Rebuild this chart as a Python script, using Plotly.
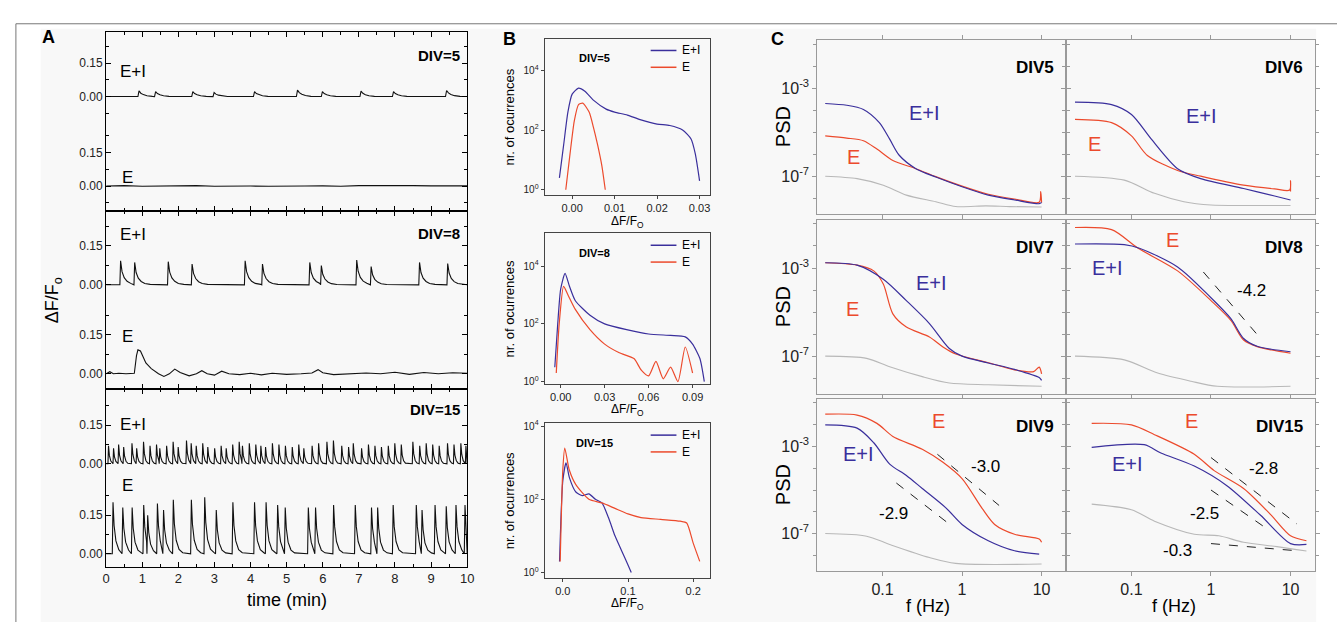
import numpy as np
import plotly.graph_objects as go

W, H = 1344, 625
FONT = "Liberation Sans, Arial, sans-serif"
BLUE = "#3a2f9c"
RED = "#ec4a2c"
GRAY = "#b8b8b8"
BLACK = "#111111"

# ---------------- Panel A data (time in min, dF/F) ----------------
A_TIME_TICKS = list(range(11))
# DIV=5
A5_EI_T = [0.88, 1.34, 2.37, 2.96, 4.08, 5.27, 5.96, 7.03, 7.93, 9.40]
A5_EI_A = [0.025, 0.022, 0.022, 0.018, 0.022, 0.029, 0.022, 0.024, 0.022, 0.027]
A5_EI_SHAPE_T = [0, 0.03, 0.08, 0.15, 0.25, 0.40]
A5_EI_SHAPE_Y = [0, 1.0, 0.6, 0.35, 0.15, 0.03]
A5_E_T = [0, 0.5, 1.0, 1.5, 2.0, 2.5, 3.0, 3.5, 4.0, 4.5, 5.0, 5.5, 6.0, 6.5, 7.0, 7.5, 8.0, 8.5, 9.0, 9.5, 10.0]
A5_E_Y = [0.0, 0.002, -0.001, 0.001, 0.0, 0.002, -0.001, 0.001, 0.0, -0.001, 0.001, 0.0, 0.001, -0.001, 0.002, 0.003, 0.004, 0.002, 0.001, 0.0, 0.001]
# DIV=8
A8_EI_T = [0.38, 0.77, 1.70, 2.36, 3.83, 4.31, 5.62, 5.94, 6.92, 7.32, 8.66, 9.44]
A8_EI_A = [0.092, 0.086, 0.089, 0.080, 0.092, 0.080, 0.086, 0.074, 0.095, 0.070, 0.086, 0.082]
A8_EI_SHAPE_T = [0, 0.02, 0.06, 0.12, 0.20, 0.30, 0.45]
A8_EI_SHAPE_Y = [0, 1.0, 0.55, 0.30, 0.15, 0.06, 0.02]
A8_E_T = [0, 0.1, 0.2, 0.35, 0.55, 0.78, 0.84, 0.88, 0.95, 1.0, 1.1, 1.25, 1.45, 1.6, 1.75, 1.9, 2.05, 2.3, 2.5,
          2.65, 2.8, 3.0, 3.2, 3.4, 3.7, 4.0, 4.3, 4.6, 5.0, 5.4, 5.7, 5.87, 6.0, 6.3, 6.8, 7.2, 7.6, 8.0, 8.4,
          8.8, 9.2, 9.6, 10.0]
A8_E_Y = [0.0, 0.008, 0.0, 0.002, 0.0, 0.002, 0.07, 0.092, 0.088, 0.072, 0.042, 0.02, 0.0, -0.01, 0.0, 0.018,
          0.005, -0.008, 0.0, 0.012, 0.0, -0.005, 0.01, 0.0, -0.003, 0.002, -0.004, 0.002, -0.002, 0.0, 0.003,
          0.016, 0.004, -0.003, 0.0, 0.003, 0.0, 0.006, -0.002, 0.005, 0.0, 0.004, 0.002]
# DIV=15
A15_EI_T = [0.05, 0.19, 0.33, 0.47, 0.70, 0.83, 1.02, 1.20, 1.38, 1.47, 1.66, 1.84, 1.98, 2.21, 2.34, 2.48,
            2.66, 2.80, 2.99, 3.17, 3.31, 3.49, 3.67, 3.76, 3.95, 4.13, 4.27, 4.40, 4.59, 4.77, 4.95, 5.14,
            5.32, 5.46, 5.69, 5.87, 6.10, 6.28, 6.51, 6.70, 6.83, 7.06, 7.25, 7.43, 7.61, 7.80, 7.98, 8.16,
            8.48, 8.67, 8.85, 9.03, 9.21, 9.44, 9.62, 9.81, 9.95]
A15_EI_A = [0.07, 0.06, 0.075, 0.065, 0.08, 0.06, 0.085, 0.07, 0.075, 0.06, 0.07, 0.085, 0.065, 0.09, 0.08, 0.07,
            0.08, 0.065, 0.06, 0.07, 0.06, 0.075, 0.085, 0.07, 0.08, 0.075, 0.07, 0.065, 0.08, 0.075, 0.07, 0.065,
            0.075, 0.06, 0.07, 0.08, 0.085, 0.09, 0.07, 0.065, 0.08, 0.06, 0.075, 0.07, 0.065, 0.07, 0.08, 0.075,
            0.085, 0.07, 0.08, 0.075, 0.07, 0.08, 0.075, 0.08, 0.07]
A15_EI_SHAPE_T = [0, 0.015, 0.04, 0.08, 0.13]
A15_EI_SHAPE_Y = [0, 1.0, 0.45, 0.15, 0.03]
A15_E_T = [0.17, 0.44, 0.70, 1.02, 1.13, 1.40, 1.57, 1.84, 2.34, 2.71, 3.03, 3.49, 4.09, 4.41, 4.73, 4.94,
           5.58, 5.78, 6.28, 6.88, 7.33, 7.50, 7.93, 8.57, 8.73, 9.09, 9.40, 9.67, 9.92]
A15_E_A = [0.20, 0.18, 0.18, 0.19, 0.15, 0.195, 0.17, 0.21, 0.21, 0.22, 0.17, 0.20, 0.20, 0.20, 0.19, 0.18,
           0.18, 0.18, 0.19, 0.19, 0.18, 0.18, 0.19, 0.19, 0.17, 0.19, 0.185, 0.19, 0.19]
A15_E_SHAPE_T = [0, 0.02, 0.05, 0.10, 0.18, 0.28]
A15_E_SHAPE_Y = [0, 1.0, 0.55, 0.25, 0.08, 0.02]

# ---------------- Panel B data (dF/F0, log10 occurrences) ----------------
B5_EI_X = [-0.003, -0.002, -0.001, 0.0, 0.0015, 0.003, 0.005, 0.008, 0.010, 0.013, 0.016, 0.020, 0.023, 0.026, 0.028, 0.029, 0.030]
B5_EI_L = [0.4, 1.5, 2.6, 3.2, 3.4, 3.3, 3.0, 2.7, 2.6, 2.5, 2.35, 2.2, 2.15, 2.0, 1.7, 1.2, 0.3]
B5_E_X = [-0.0015, -0.0005, 0.0005, 0.0015, 0.0025, 0.004, 0.005, 0.006, 0.007, 0.0078]
B5_E_L = [0.0, 1.2, 2.3, 2.85, 2.9, 2.6, 2.1, 1.5, 0.8, 0.0]
B8_EI_X = [-0.004, -0.002, 0.0, 0.003, 0.006, 0.01, 0.02, 0.03, 0.045, 0.06, 0.075, 0.085, 0.09, 0.095, 0.098]
B8_EI_L = [0.5, 2.0, 3.2, 3.75, 3.3, 2.8, 2.3, 2.0, 1.8, 1.65, 1.6, 1.55, 1.3, 0.8, 0.0]
B8_E_X = [-0.003, -0.001, 0.002, 0.005, 0.01, 0.02, 0.03, 0.04, 0.05, 0.055, 0.06, 0.065, 0.07, 0.075, 0.08, 0.085, 0.09]
B8_E_L = [0.3, 2.0, 3.3, 3.0, 2.5, 1.8, 1.3, 1.0, 0.8, 0.4, 0.2, 0.7, 0.1, 0.5, 0.0, 1.2, 0.3]
B15_EI_X = [-0.005, 0.0, 0.005, 0.01, 0.02, 0.03, 0.04, 0.05, 0.06, 0.07, 0.08, 0.09, 0.1, 0.105]
B15_EI_L = [0.3, 2.5, 3.0, 2.6, 2.2, 2.1, 2.15, 2.0, 1.9, 1.5, 1.0, 0.6, 0.2, 0.0]
B15_E_X = [-0.004, 0.0, 0.003, 0.01, 0.02, 0.04, 0.06, 0.08, 0.10, 0.12, 0.15, 0.18, 0.19, 0.20, 0.21]
B15_E_L = [0.3, 2.8, 3.4, 2.8, 2.4, 2.0, 1.9, 1.75, 1.6, 1.5, 1.45, 1.4, 1.35, 0.8, 0.3]

# ---------------- Panel C data (log10 f, log10 PSD) ----------------
C5_EI = [(-1.72, -3.70), (-1.45, -3.78), (-1.24, -3.97), (-1.04, -4.57), (-0.91, -5.32), (-0.79, -6.05), (-0.58, -6.66),
         (-0.33, -7.04), (0.0, -7.48), (0.33, -7.86), (0.66, -8.08), (0.97, -8.25), (1.0, -8.2)]
C5_E = [(-1.72, -5.17), (-1.45, -5.27), (-1.24, -5.39), (-1.07, -5.77), (-0.87, -6.29), (-0.58, -6.66), (-0.33, -7.02),
        (0.0, -7.45), (0.33, -7.82), (0.66, -8.04), (0.97, -8.18), (0.99, -7.7), (1.0, -8.2)]
C5_BG = [(-1.72, -7.0), (-1.32, -7.11), (-0.99, -7.41), (-0.70, -7.86), (-0.33, -8.16), (-0.08, -8.38), (0.3, -8.35),
         (0.6, -8.38), (1.0, -8.4)]
C6_EI = [(-1.71, -3.64), (-1.25, -3.75), (-1.0, -4.20), (-0.75, -5.32), (-0.42, -6.66), (-0.13, -7.11), (0.41, -7.56),
         (0.8, -7.9), (1.0, -8.08)]
C6_E = [(-1.71, -4.42), (-1.25, -4.57), (-1.0, -5.17), (-0.80, -6.06), (-0.42, -6.74), (-0.13, -7.0), (0.41, -7.41),
        (0.8, -7.58), (0.99, -7.63), (1.0, -7.2), (1.0, -7.7)]
C6_BG = [(-1.71, -7.0), (-1.09, -7.18), (-0.71, -7.78), (-0.34, -8.16), (0.0, -8.31), (0.5, -8.33), (1.0, -8.33)]
C7_EI = [(-1.72, -2.76), (-1.32, -2.87), (-0.99, -3.51), (-0.70, -4.48), (-0.41, -5.52), (-0.16, -6.65), (0.0, -7.0),
         (0.33, -7.31), (0.66, -7.60), (0.97, -7.97), (1.0, -8.1)]
C7_E = [(-1.72, -2.76), (-1.32, -2.87), (-1.11, -3.13), (-0.99, -3.73), (-0.87, -5.08), (-0.70, -5.68), (-0.41, -6.13),
        (-0.24, -6.58), (-0.08, -6.9), (0.33, -7.3), (0.66, -7.62), (0.9, -7.7), (0.97, -7.5), (1.0, -7.8)]
C7_BG = [(-1.72, -7.0), (-1.2, -7.1), (-0.91, -7.48), (-0.5, -7.93), (-0.16, -8.22), (0.33, -8.3), (1.0, -8.37)]
C8_E = [(-1.71, -1.16), (-1.25, -1.26), (-0.92, -2.09), (-0.42, -3.13), (0.0, -4.48), (0.25, -5.38), (0.41, -6.27),
        (0.58, -6.57), (1.0, -6.87)]
C8_EI = [(-1.71, -1.91), (-1.09, -1.94), (-0.9, -2.1), (-0.42, -2.95), (0.0, -4.35), (0.25, -5.3), (0.41, -6.2),
         (0.58, -6.55), (1.0, -6.8)]
C8_BG = [(-1.71, -7.0), (-1.09, -7.17), (-0.67, -7.77), (-0.25, -8.14), (0.08, -8.37), (1.0, -8.37)]
C9_E = [(-1.72, -1.52), (-1.32, -1.56), (-1.07, -1.94), (-0.87, -2.54), (-0.5, -3.13), (-0.24, -3.73), (0.0, -4.48),
        (0.25, -5.83), (0.41, -6.58), (0.66, -7.03), (0.97, -7.25), (1.0, -7.4)]
C9_EI = [(-1.72, -2.01), (-1.32, -2.16), (-1.11, -2.83), (-0.91, -3.81), (-0.70, -4.33), (-0.5, -4.93), (-0.2, -5.83),
         (0.0, -6.58), (0.33, -7.33), (0.66, -7.79), (0.97, -7.94)]
C9_BG = [(-1.72, -7.0), (-1.2, -7.12), (-0.91, -7.5), (-0.41, -8.1), (-0.08, -8.37), (1.0, -8.4)]
C15_E = [(-1.5, -1.94), (-1.0, -2.01), (-0.71, -2.46), (-0.21, -3.36), (0.04, -4.11), (0.41, -4.93), (0.75, -6.13),
         (1.0, -7.10), (1.2, -7.33)]
C15_EI = [(-1.5, -3.04), (-0.84, -2.92), (-0.63, -3.30), (-0.21, -3.90), (0.2, -4.80), (0.62, -6.15), (1.0, -7.46),
          (1.2, -7.5)]
C15_BG = [(-1.5, -5.65), (-1.0, -5.91), (-0.71, -6.43), (-0.21, -7.03), (0.1, -7.1), (0.41, -7.4), (0.83, -7.6),
          (1.2, -7.8)]
# fitted power-law guides: (log f0, log P0, log f1, log P1)
FIT_DIV8 = [(-0.096, -3.18, 0.6, -6.1)]
FIT_DIV9 = [(-0.31, -3.36, 0.466, -5.71), (-0.826, -4.68, -0.162, -6.56)]
FIT_DIV15 = [(0.0, -3.51, 1.08, -6.56), (0.0, -5.0, 0.68, -6.72), (0.0, -7.46, 1.08, -7.79)]
SLOPE_LABELS = ["-4.2", "-3.0", "-2.9", "-2.8", "-2.5", "-0.3"]
C_TITLES = ["DIV5", "DIV6", "DIV7", "DIV8", "DIV9", "DIV15"]

# ---------------- helpers ----------------
def dx(x0, x1):
    return [x0 / W, x1 / W]

def dy(y0, y1):
    return [1 - y1 / H, 1 - y0 / H]

def px(x):
    return x / W

def py(y):
    return 1 - y / H

def spike_train(times, amps, st, sy, t_end=10.0):
    xs, ys = [0.0], [0.0]
    for i, (t0, a) in enumerate(zip(times, amps)):
        nxt = times[i + 1] if i + 1 < len(times) else t_end
        for d, f in zip(st, sy):
            if t0 + d < nxt:
                xs.append(t0 + d)
                ys.append(a * f)
    xs.append(t_end)
    ys.append(0.0)
    return np.array(xs), np.array(ys)

fig = go.Figure()
annotations = []
shapes = []

def ann(text, x, y, size, color="black", bold=False, xanchor="center", yanchor="middle", angle=0):
    if bold:
        text = "<b>" + text + "</b>"
    annotations.append(dict(text=text, x=px(x), y=py(y), xref="paper", yref="paper", showarrow=False,
                            font=dict(family=FONT, size=size, color=color), xanchor=xanchor,
                            yanchor=yanchor, textangle=angle))

layout = dict(width=W, height=H, margin=dict(l=0, r=0, t=0, b=0), paper_bgcolor="white",
              plot_bgcolor="rgba(0,0,0,0)", showlegend=False, font=dict(family=FONT))

# ---------------- Panel A ----------------
A_BOXES = [(28, 209), (209, 389), (389, 569)]
A_OFFS = [0.40, 0.342, 0.35]
A_RANGES = [(-0.11, 0.69), (-0.057, 0.627), (-0.05, 0.642)]
A_MINOR = [[-0.075, 0.075, 0.225, 0.325, 0.475, 0.625], [0.075, 0.225, 0.417, 0.567], [0.075, 0.225, 0.425, 0.577]]

a_series = [
    (spike_train(A5_EI_T, A5_EI_A, A5_EI_SHAPE_T, A5_EI_SHAPE_Y), (np.array(A5_E_T), np.array(A5_E_Y))),
    (spike_train(A8_EI_T, A8_EI_A, A8_EI_SHAPE_T, A8_EI_SHAPE_Y), (np.array(A8_E_T), np.array(A8_E_Y))),
    (spike_train(A15_EI_T, A15_EI_A, A15_EI_SHAPE_T, A15_EI_SHAPE_Y),
     spike_train(A15_E_T, A15_E_A, A15_E_SHAPE_T, A15_E_SHAPE_Y)),
]
for i in range(3):
    k = i + 1
    (tx, ty), (ex, ey) = a_series[i]
    off = A_OFFS[i]
    fig.add_trace(go.Scatter(x=tx, y=ty + off, mode="lines", line=dict(color=BLACK, width=1.1),
                             xaxis=f"x{k}", yaxis=f"y{k}"))
    fig.add_trace(go.Scatter(x=ex, y=ey, mode="lines", line=dict(color=BLACK, width=1.1),
                             xaxis=f"x{k}", yaxis=f"y{k}"))
    y0, y1 = A_BOXES[i]
    xa = dict(domain=dx(103, 467), range=[0, 10], anchor=f"y{k}", tickmode="array",
              tickvals=A_TIME_TICKS, showticklabels=(i == 2), ticks="inside", ticklen=5, tickcolor="black",
              mirror="ticks", showline=True, linecolor="black", linewidth=1.2,
              showgrid=False, zeroline=False, tickfont=dict(size=13, color="#222"),
              minor=dict(tickmode="array", tickvals=[v + 0.5 for v in range(10)],
                         ticks="inside", ticklen=3, tickcolor="black"))
    if i == 2:
        xa["ticktext"] = [str(v) for v in A_TIME_TICKS]
    layout[f"xaxis{k}"] = xa
    layout[f"yaxis{k}"] = dict(domain=dy(y0, y1), range=list(A_RANGES[i]), anchor=f"x{k}", tickmode="array",
                               tickvals=[0, 0.15, off, off + 0.15], ticktext=["0.00", "0.15", "0.00", "0.15"],
                               ticks="inside", ticklen=5, tickcolor="black", mirror="ticks", showline=True,
                               linecolor="black", linewidth=1.2, showgrid=False, zeroline=False,
                               tickfont=dict(size=12, color="#222"),
                               minor=dict(tickmode="array", tickvals=A_MINOR[i], ticks="inside", ticklen=3,
                                          tickcolor="black"))

ann("A", 45, 33, 18, bold=True)
for (tx, ty), (ex, ey) in [((130, 68), (125, 175)), ((130, 233), (125, 336)), ((130, 425), (125, 487))]:
    ann("E+I", tx, ty, 17)
    ann("E", ex, ey, 17)
ann("DIV=5", 462, 52, 15, bold=True, xanchor="right")
ann("DIV=8", 462, 232, 15, bold=True, xanchor="right")
ann("DIV=15", 462, 410, 15, bold=True, xanchor="right")
ann("ΔF/F<sub>o</sub>", 50, 300, 18, angle=-90)
ann("time (min)", 285, 603, 18)

# ---------------- Panel B ----------------
B_X = (545, 712)
B_BOXES = [(35, 193), (232, 384), (424, 580)]
B_YR = [(-0.17, 5.06), (-0.07, 5.13), (-0.14, 4.08)]
B_XR = [(-0.0065, 0.0325), (-0.011, 0.102), (-0.028, 0.226)]
B_XT = [[0.0, 0.01, 0.02, 0.03], [0.0, 0.03, 0.06, 0.09], [0.0, 0.1, 0.2]]
B_XTT = [["0.00", "0.01", "0.02", "0.03"], ["0.00", "0.03", "0.06", "0.09"], ["0.0", "0.1", "0.2"]]
B_XLABEL_DY = [27, 27, 27]
b_series = [((B5_EI_X, B5_EI_L), (B5_E_X, B5_E_L)), ((B8_EI_X, B8_EI_L), (B8_E_X, B8_E_L)),
            ((B15_EI_X, B15_EI_L), (B15_E_X, B15_E_L))]
B_TITLES = ["DIV=5", "DIV=8", "DIV=15"]
for i in range(3):
    k = i + 4
    (eix, eil), (ex, el) = b_series[i]
    fig.add_trace(go.Scatter(x=eix, y=10 ** np.array(eil), mode="lines",
                             line=dict(color=BLUE, width=1.2, shape="spline", smoothing=0.6),
                             xaxis=f"x{k}", yaxis=f"y{k}"))
    fig.add_trace(go.Scatter(x=ex, y=10 ** np.array(el), mode="lines",
                             line=dict(color=RED, width=1.2, shape="spline", smoothing=0.6),
                             xaxis=f"x{k}", yaxis=f"y{k}"))
    y0, y1 = B_BOXES[i]
    layout[f"xaxis{k}"] = dict(domain=dx(*B_X), range=list(B_XR[i]), anchor=f"y{k}", tickmode="array",
                               tickvals=B_XT[i], ticktext=B_XTT[i], ticks="outside", ticklen=3,
                               showline=True, linecolor="#444", linewidth=1, mirror=True, showgrid=False,
                               zeroline=False, tickfont=dict(size=11, color="#222"))
    layout[f"yaxis{k}"] = dict(domain=dy(y0, y1), type="log", range=list(B_YR[i]), anchor=f"x{k}",
                               tickmode="array", tickvals=[1, 100, 10000],
                               ticktext=["10<sup>0</sup>", "10<sup>2</sup>", "10<sup>4</sup>"],
                               ticks="outside", ticklen=3, showline=True, linecolor="#444", linewidth=1,
                               mirror=True, showgrid=False, zeroline=False, tickfont=dict(size=10, color="#222"))
    ann(B_TITLES[i], B_X[0] + 50, y0 + 20, 11, bold=True)
    ann("nr. of ocurrences", 510, (y0 + y1) / 2, 13, angle=-90)
    ann("ΔF/F<sub>O</sub>", (B_X[0] + B_X[1]) / 2, y1 + B_XLABEL_DY[i], 12)
    # legend
    ly = y0 + 12
    shapes.append(dict(type="line", xref="paper", yref="paper", x0=px(B_X[1] - 60), x1=px(B_X[1] - 34),
                       y0=py(ly), y1=py(ly), line=dict(color=BLUE, width=1.5)))
    shapes.append(dict(type="line", xref="paper", yref="paper", x0=px(B_X[1] - 60), x1=px(B_X[1] - 34),
                       y0=py(ly + 17), y1=py(ly + 17), line=dict(color=RED, width=1.5)))
    ann("E+I", B_X[1] - 30, ly, 12, xanchor="left")
    ann("E", B_X[1] - 30, ly + 17, 12, xanchor="left")
ann("B", 510, 35, 18, bold=True)

# ---------------- Panel C ----------------
C_COLS = [(820, 1071), (1071, 1322)]
C_ROWS = [(36, 212), (218, 394), (399, 573)]
C_FLABEL_X = [932, 1180]
c_sets = [(C5_EI, C5_E, C5_BG), (C6_EI, C6_E, C6_BG), (C7_EI, C7_E, C7_BG), (C8_EI, C8_E, C8_BG),
          (C9_EI, C9_E, C9_BG), (C15_EI, C15_E, C15_BG)]
c_fits = [[], [], [], FIT_DIV8, FIT_DIV9, FIT_DIV15]
for j in range(6):
    k = j + 7
    r, c = divmod(j, 2)
    ei, e, bg = c_sets[j]
    for curve, col, wdt in [(bg, GRAY, 1.1), (e, RED, 1.2), (ei, BLUE, 1.2)]:
        arr = np.array(curve)
        fig.add_trace(go.Scatter(x=10 ** arr[:, 0], y=10 ** arr[:, 1], mode="lines",
                                 line=dict(color=col, width=wdt, shape="spline", smoothing=0.8),
                                 xaxis=f"x{k}", yaxis=f"y{k}"))
    for (lf0, lp0, lf1, lp1) in c_fits[j]:
        fig.add_trace(go.Scatter(x=[10 ** lf0, 10 ** lf1], y=[10 ** lp0, 10 ** lp1], mode="lines",
                                 line=dict(color="#222", width=1, dash="dash"), xaxis=f"x{k}", yaxis=f"y{k}"))
    x0, x1 = C_COLS[c]
    y0, y1 = C_ROWS[r]
    xa = dict(domain=dx(x0, x1), type="log", range=[-1.82, 1.31], anchor=f"y{k}",
              tickmode="array", tickvals=[0.1, 1, 10],
              showticklabels=(r == 2), ticks="outside", ticklen=4, tickcolor="#999",
              showline=True, linecolor="#9a9a9a", linewidth=1, mirror="ticks",
              showgrid=False, zeroline=False, tickfont=dict(size=16, color="#222"))
    if r == 2:
        xa["ticktext"] = ["0.1", "1", "10"]
    ya = dict(domain=dy(y0, y1), type="log", range=[-8.7, -0.8], anchor=f"x{k}",
              tickmode="array", tickvals=[1e-7, 1e-3], showticklabels=(c == 0),
              ticks="outside", ticklen=4, tickcolor="#999", showline=True,
              linecolor="#9a9a9a", linewidth=1, mirror="ticks", showgrid=False,
              zeroline=False, tickfont=dict(size=16, color="#222"),
              minor=dict(tickmode="array", tickvals=[10.0 ** p for p in range(-8, 0)],
                         ticks="outside", ticklen=3, tickcolor="#999"))
    if c == 0:
        ya["ticktext"] = ["10<sup>-7</sup>", "10<sup>-3</sup>"]
    layout[f"xaxis{k}"] = xa
    layout[f"yaxis{k}"] = ya
    ann(C_TITLES[j], x1 - 10, y0 + 28, 17, bold=True, xanchor="right")
    if c == 0:
        ann("PSD", 785, (y0 + y1) / 2, 20, angle=-90)
    if r == 2:
        ann("f (Hz)", C_FLABEL_X[c], 609, 18)

ann("C", 780, 35, 18, bold=True)
# curve labels in C
ann("E+I", 928, 110, 20, color=BLUE)
ann("E", 857, 155, 20, color=RED)
ann("E+I", 1207, 113, 20, color=BLUE)
ann("E", 1100, 142, 20, color=RED)
ann("E+I", 935, 282, 20, color=BLUE)
ann("E", 855, 308, 20, color=RED)
ann("E", 1178, 239, 20, color=RED)
ann("E+I", 1113, 267, 20, color=BLUE)
ann("E", 942, 422, 20, color=RED)
ann("E+I", 862, 455, 20, color=BLUE)
ann("E", 1197, 422, 20, color=RED)
ann("E+I", 1133, 465, 20, color=BLUE)
for lab, (x, y) in zip(SLOPE_LABELS, [(1258, 290), (990, 468), (897, 515), (1270, 470), (1210, 515), (1183, 553)]):
    ann(lab, x, y, 17)

# background canvas and frame
shapes.insert(0, dict(type="rect", xref="paper", yref="paper", x0=px(37), x1=px(1323), y0=0, y1=py(25),
                      fillcolor="#f8f8f8", line=dict(width=0), layer="below"))
shapes.append(dict(type="line", xref="paper", yref="paper", x0=px(12), x1=px(12), y0=0, y1=py(20),
                   line=dict(color="#777", width=1)))
shapes.append(dict(type="line", xref="paper", yref="paper", x0=px(12), x1=1, y0=py(20), y1=py(20),
                   line=dict(color="#777", width=1)))

layout["annotations"] = annotations
layout["shapes"] = shapes
fig.update_layout(**layout)
fig.write_html("out.html", config={"displayModeBar": False},
               post_script="document.body.style.margin='0';document.body.style.overflow='hidden';")
